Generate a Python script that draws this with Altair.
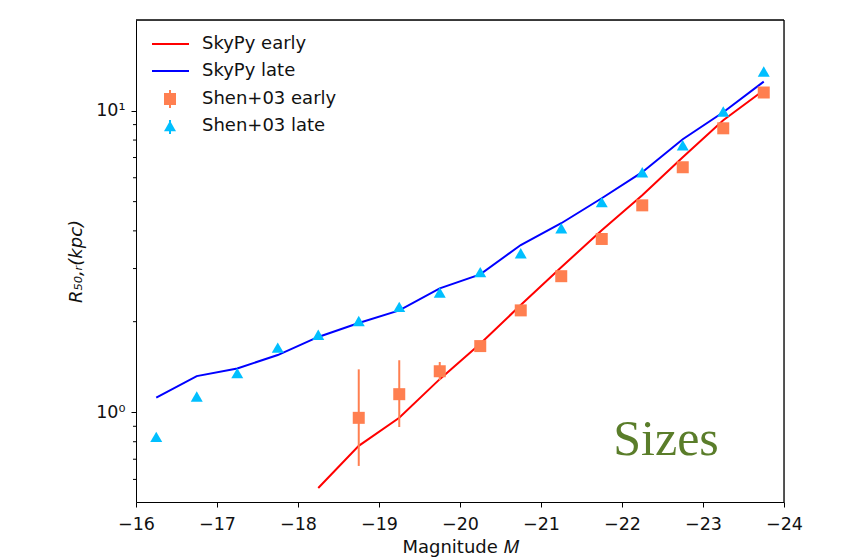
import altair as alt
import pandas as pd

# Shen+03 late (triangles)
late_mag = [-16.25, -16.75, -17.25, -17.75, -18.25, -18.75, -19.25, -19.75,
            -20.25, -20.75, -21.25, -21.75, -22.25, -22.75, -23.25, -23.75]
late_obs = [0.83, 1.13, 1.35, 1.64, 1.81, 2.01, 2.24, 2.50,
            2.92, 3.37, 4.08, 4.98, 6.26, 7.69, 9.95, 13.5]

# Shen+03 early (squares)
early_mag = [-18.75, -19.25, -19.75, -20.25, -20.75, -21.25, -21.75,
             -22.25, -22.75, -23.25, -23.75]
early_obs = [0.96, 1.15, 1.37, 1.66, 2.18, 2.83, 3.76, 4.86, 6.50, 8.75, 11.5]

# visible error bars of Shen+03 early
err_mag = [-18.75, -19.25, -19.75]
err_lo = [0.665, 0.895, 1.28]
err_hi = [1.39, 1.49, 1.47]

# SkyPy early (red line)
sky_early_mag = [-18.25, -18.75, -19.25, -19.75, -20.25, -20.75, -21.25,
                 -21.75, -22.25, -22.75, -23.25, -23.75]
sky_early = [0.562, 0.775, 0.96, 1.29, 1.69, 2.27, 3.03, 4.02, 5.25, 7.02, 9.3, 11.7]

# SkyPy late (blue line)
sky_late_mag = late_mag
sky_late = [1.12, 1.32, 1.40, 1.55, 1.78, 1.98, 2.18, 2.58,
            2.87, 3.59, 4.24, 5.13, 6.26, 8.05, 9.89, 12.5]

x_ticks = [-16, -17, -18, -19, -20, -21, -22, -23, -24]
y_major = [1, 10]
y_minor = [0.6, 0.7, 0.8, 0.9, 2, 3, 4, 5, 6, 7, 8, 9]
legend_labels = ["SkyPy early", "SkyPy late", "Shen+03 early", "Shen+03 late"]

FONT = "DejaVu Sans"
W, H = 648, 482
TICKFS = 17.5
TXTFS = 18

xscale = alt.Scale(domain=[-16, -24], nice=False, zero=False)
yscale = alt.Scale(type="log", domain=[0.505, 20], nice=False)

xenc = alt.X("M:Q", scale=xscale,
             axis=alt.Axis(values=x_ticks, format="d", title="Magnitude 𝑀", grid=False,
                           tickSize=5, labelFontSize=TICKFS, titleFontSize=TXTFS,
                           labelFont=FONT, titleFont=FONT, titleFontWeight="normal",
                           labelPadding=8, titlePadding=6,
                           domainColor="black", tickColor="black",
                           labelColor="#111111", titleColor="#111111", labelFlush=False))
yenc = alt.Y("R:Q", scale=yscale,
             axis=alt.Axis(values=y_major, title="R₅₀,ᵣ(kpc)", grid=False,
                           labelExpr="datum.value == 1 ? '10⁰' : '10¹'",
                           tickSize=5, labelFontSize=TICKFS, titleFontSize=TXTFS,
                           labelFont=FONT, titleFont=FONT, titleFontWeight="normal",
                           titleFontStyle="italic", labelPadding=6, titlePadding=10,
                           domainColor="black", tickColor="black",
                           labelColor="#111111", titleColor="#111111", labelFlush=False))

df_late = pd.DataFrame({"M": late_mag, "R": late_obs})
df_early = pd.DataFrame({"M": early_mag, "R": early_obs})
df_err = pd.DataFrame({"M": err_mag, "R": err_lo, "R2": err_hi})
df_se = pd.DataFrame({"M": sky_early_mag, "R": sky_early})
df_sl = pd.DataFrame({"M": sky_late_mag, "R": sky_late})
df_minor = pd.DataFrame({"R": y_minor})

line_early = alt.Chart(df_se).mark_line(color="red", strokeWidth=2).encode(x=xenc, y=yenc)
line_late = alt.Chart(df_sl).mark_line(color="blue", strokeWidth=2).encode(x=xenc, y=yenc)
errbars = alt.Chart(df_err).mark_rule(color="coral", strokeWidth=2).encode(
    x=alt.X("M:Q", scale=xscale), y=alt.Y("R:Q", scale=yscale), y2="R2:Q")
squares = alt.Chart(df_early).mark_point(shape="square", filled=True, size=144,
                                         color="coral", opacity=1).encode(x=xenc, y=yenc)
triangles = alt.Chart(df_late).mark_point(shape="triangle-up", filled=True, size=144,
                                          color="deepskyblue", opacity=1).encode(x=xenc, y=yenc)
minor_ticks = alt.Chart(df_minor).mark_rule(color="black", strokeWidth=1).encode(
    y=alt.Y("R:Q", scale=yscale), x=alt.value(-3), x2=alt.value(0))

# top and right spines
spines = [
    alt.Chart(pd.DataFrame({"t": [0]})).mark_rule(color="black", strokeWidth=1.3).encode(
        x=alt.value(0), x2=alt.value(W), y=alt.value(0)),
    alt.Chart(pd.DataFrame({"t": [0]})).mark_rule(color="black", strokeWidth=1.3).encode(
        x=alt.value(W), y=alt.value(0), y2=alt.value(H)),
]

# legend
one = pd.DataFrame({"t": [0]})
rows_y = [24, 51, 79, 106]
leg = []
leg.append(alt.Chart(one).mark_rule(color="red", strokeWidth=2).encode(
    x=alt.value(16), x2=alt.value(53), y=alt.value(rows_y[0])))
leg.append(alt.Chart(one).mark_rule(color="blue", strokeWidth=2).encode(
    x=alt.value(16), x2=alt.value(53), y=alt.value(rows_y[1])))
leg.append(alt.Chart(one).mark_rule(color="coral", strokeWidth=2).encode(
    x=alt.value(34), y=alt.value(rows_y[2] - 9), y2=alt.value(rows_y[2] + 9)))
leg.append(alt.Chart(one).mark_point(shape="square", filled=True, size=144,
                                     color="coral", opacity=1).encode(
    x=alt.value(34), y=alt.value(rows_y[2])))
leg.append(alt.Chart(one).mark_rule(color="deepskyblue", strokeWidth=2).encode(
    x=alt.value(34), y=alt.value(rows_y[3] - 6), y2=alt.value(rows_y[3] + 8)))
leg.append(alt.Chart(one).mark_point(shape="triangle-up", filled=True, size=144,
                                     color="deepskyblue", opacity=1).encode(
    x=alt.value(34), y=alt.value(rows_y[3])))
for lab, yy in zip(legend_labels, rows_y):
    leg.append(alt.Chart(pd.DataFrame({"t": [lab]})).mark_text(
        align="left", baseline="middle", font=FONT, fontSize=TXTFS, color="#111111").encode(
        text="t:N", x=alt.value(66), y=alt.value(yy)))

sizes = alt.Chart(pd.DataFrame({"t": ["Sizes"]})).mark_text(
    align="center", baseline="alphabetic", font="Liberation Serif", fontSize=50,
    color="#5a7d2a").encode(text="t:N", x=alt.value(530), y=alt.value(435))

chart = alt.layer(
    line_early, line_late, errbars, squares, triangles, minor_ticks, *spines, *leg, sizes
).properties(
    width=W, height=H,
    autosize=alt.AutoSizeParams(type="none"),
    padding={"left": 128, "top": 12, "right": 40, "bottom": 58},
).configure_view(stroke=None).configure(background="white")

chart.save("out.html", embed_options={"renderer": "svg", "actions": False})
